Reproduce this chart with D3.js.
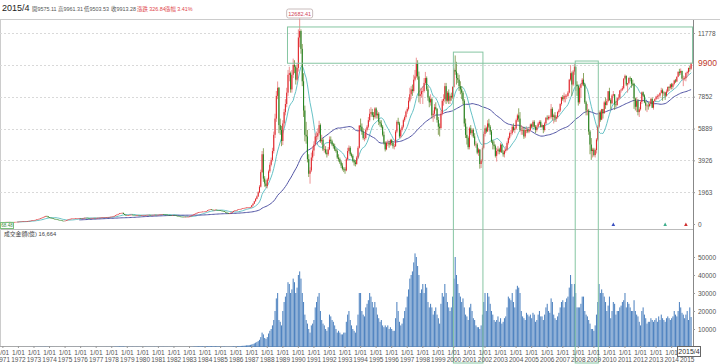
<!DOCTYPE html>
<meta charset="utf-8">
<style>
body { margin: 0; background: #fff; }
svg { display: block; font-family: "Liberation Sans", "Noto Sans CJK TC", sans-serif; }
.grid line { stroke: #d9d9d9; stroke-dasharray: 2,2; }
.axis text { fill: #555; font-size: 6.5px; }
.axis line { stroke: #999; }
</style>
<svg width="720" height="364"></svg>
<script src="https://d3js.org/d3.v7.min.js"></script>
<script>

// monthly TAIEX, 1971/01 .. 2015/04
var firstYear = 1971;

var opens = [
  118,121,124,126,129,131,130,128,127,126,127,130,
  134,140,148,155,160,168,172,178,185,190,200,215,
  227,240,255,275,300,325,350,380,420,455,490,470,
  410,390,370,340,320,300,280,265,250,230,210,195,
  190,200,230,260,290,320,330,340,340,350,355,360,
  364,360,365,370,380,385,375,370,365,370,372,375,
  372,375,380,385,395,400,405,410,415,420,430,435,
  442,450,470,500,540,580,620,650,670,688,620,560,
  525,530,540,560,570,560,550,545,550,555,545,540,
  541,545,550,555,560,565,560,555,560,565,570,565,
  568,570,580,590,600,590,580,570,560,555,550,548,
  551,540,520,500,480,460,450,440,430,445,440,442,
  443,460,500,540,580,620,660,700,720,740,750,760,
  761,780,800,850,880,900,880,860,870,880,860,850,
  839,820,800,780,750,700,680,640,660,700,750,800,
  835,850,880,900,920,940,960,980,1000,1010,1020,1030,
  1039,1150,1250,1400,1550,1700,1950,2300,3200,4300,2800,2500,
  2339,2750,3250,3650,3950,4500,5500,6500,7900,8400,6100,5800,
  5119,6200,6900,7400,8100,9200,9300,8300,9200,9800,9700,8900,
  9624,11500,11900,10800,8800,7000,5500,5400,4000,3100,3300,4100,
  4530,4900,5400,5400,5600,6100,5100,5200,4600,4600,4400,4300,
  4600,5200,5100,4900,4800,4600,4500,4100,4000,3800,3600,3400,
  3377,3300,4000,4500,4700,4300,4200,3900,3800,3700,4100,4700,
  6070,6000,5700,5300,5300,5800,6000,6400,6800,6900,6700,6600,
  7124,6700,6800,6300,6200,6000,5500,5000,4600,5000,5000,4900,
  5173,5000,4800,4800,5700,6300,6200,5400,5800,6000,6400,6600,
  6933,7100,7600,8000,8300,8200,8900,9100,9900,9100,7900,8000,
  8187,8200,8700,9000,8300,7800,7500,7700,6700,6800,7200,7100,
  6418,6000,5900,6800,7600,7700,8500,7600,8100,7600,7900,7800,
  8448,9500,9400,9000,8900,8500,8300,8100,7600,6200,5500,5300,
  4739,5900,5600,5800,5400,4900,4900,4400,4600,3700,3900,4700,
  5551,5900,5700,6200,6000,5700,5100,4900,4800,4200,4500,4600,
  4452,4900,4400,4300,4500,4600,5000,5300,5600,5600,6000,5800,
  5890,6400,6700,6500,5800,5800,5800,5400,5800,5800,5700,5800,
  6139,6000,6300,6000,5800,6000,6200,6300,6000,6100,5800,6200,
  6548,6500,6600,6600,7100,6600,6700,6500,6600,6900,7000,7400,
  7823,7700,7900,7900,7900,8100,8900,9300,8600,9400,9700,8600,
  8506,7500,8400,8600,8900,8600,7500,7000,7000,5700,4900,4500,
  4591,4250,4560,5210,6000,6890,6430,7080,6830,7500,7340,7580,
  8188,7640,7440,7920,8000,7370,7330,7760,7790,8240,8290,8370,
  8972,9140,8600,8680,9000,8990,8650,8640,7740,7230,7590,6900,
  7072,7520,8120,7930,7500,7300,7300,7270,7400,7710,7170,7580,
  7699,7850,7900,7920,8090,8250,8060,8110,7910,8170,8450,8400,
  8611,8460,8640,8850,8790,9080,9390,9320,9440,8970,8970,8990,
  9307,9360,9620,9575.11
];

var highs = [
  123,126,128,131,133,133,131,129,128,128,131,136,
  142,150,158,163,171,175,181,188,194,204,219,232,
  245,262,282,308,333,358,390,432,468,505,514,478,
  420,398,375,348,326,306,286,270,255,235,214,199,
  204,235,266,296,327,338,347,348,356,362,366,370,
  370,370,375,386,392,389,379,374,375,377,380,379,
  380,385,390,400,406,411,416,421,426,436,441,448,
  456,478,510,552,592,632,662,682,700,692,628,566,
  538,548,568,580,576,566,556,556,562,560,550,548,
  552,557,562,567,572,571,565,566,572,577,576,574,
  577,587,597,608,606,596,586,576,566,561,556,557,
  556,546,526,506,486,466,456,445,450,452,448,450,
  466,507,548,588,628,669,710,731,752,762,772,773,
  791,812,862,893,914,910,889,880,891,888,869,858,
  848,829,809,789,758,709,688,668,710,760,812,846,
  862,893,913,934,954,975,995,1016,1028,1038,1048,1058,
  1170,1280,1430,1600,1760,2020,2400,3350,4500,4673,2950,2700,
  2850,3350,3800,4100,4700,5700,6800,8200,8790,8450,6500,6050,
  6400,7100,7700,8400,9500,9700,9400,9500,10200,10100,9800,9900,
  12000,12682.41,12000,11100,9300,7300,6300,5800,4300,3500,4400,4800,
  5100,5600,5700,5900,6365,6200,5500,5300,4900,4800,4600,4750,
  5400,5400,5200,5000,4950,4700,4600,4300,4100,3900,3750,3500,
  3500,4100,4700,4850,4800,4400,4300,4000,3950,4200,4800,6100,
  6500,6200,5900,5600,5900,6100,6600,7100,7200,7100,6900,7200,
  7200,7000,6900,6400,6400,6100,5700,5100,5100,5200,5100,5250,
  5250,5100,4950,5800,6400,6550,6300,5900,6100,6500,6700,7000,
  7200,7800,8400,8500,8600,9200,9500,10256,10100,9400,8400,8400,
  8500,9000,9378,9100,8500,7900,8000,7800,7000,7400,7500,7150,
  6600,6200,7000,7700,8000,8700,8700,8200,8300,8000,8100,8500,
  9600,10393,10000,9300,9200,8800,8500,8200,7700,6500,6000,5400,
  6000,6100,5900,5900,5600,5100,5000,4700,4600,4000,4800,5700,
  6100,6000,6400,6484,6100,5800,5200,5100,4900,4700,4800,4700,
  5000,4900,4550,4600,4800,5100,5400,5700,5800,6100,6200,6000,
  6500,6800,7135,6900,6100,6000,6000,5800,6000,5900,6000,6200,
  6200,6400,6400,6100,6100,6300,6400,6400,6200,6100,6300,6600,
  6700,6700,6700,7400,7200,6800,6900,6700,6950,7100,7450,7850,
  7950,8100,8000,8000,8200,8950,9800,9400,9500,9859,9700,8800,
  8600,8500,8700,9000,9309,8700,7600,7400,7100,5800,5300,4700,
  4700,4650,5300,6100,7000,7000,7100,7100,7600,7800,7700,8200,
  8400,7750,8000,8200,8000,7600,7800,8000,8250,8350,8500,8980,
  9220,9150,8700,9050,9100,9000,8900,8700,7800,7800,7700,7200,
  7600,8170,8170,8000,7600,7400,7500,7550,7800,7800,7600,7750,
  7900,8000,8000,8100,8400,8350,8200,8150,8300,8480,8500,8650,
  8700,8700,8900,8950,9100,9400,9570,9590,9450,9150,9100,9350,
  9450,9650,9750,9961.31
];

var lows = [
  115,119,122,124,127,128,126,125,124,124,125,129,
  132,138,145,152,157,165,169,175,182,187,197,212,
  224,236,250,271,296,320,345,375,414,449,455,398,
  382,362,333,313,292,274,258,243,224,204,189,186,
  187,197,226,256,285,314,324,332,334,344,349,355,
  354,355,360,366,375,370,364,360,360,365,367,367,
  367,370,375,380,390,395,400,405,410,415,425,430,
  437,445,465,495,535,574,613,642,660,612,552,515,
  518,524,535,553,553,544,538,538,544,538,533,533,
  535,540,545,550,555,554,549,549,554,559,559,559,
  561,564,574,584,584,574,564,554,549,544,542,541,
  534,514,494,474,454,444,434,421,425,434,434,436,
  438,455,494,534,574,613,653,692,712,731,742,749,
  752,771,792,840,870,869,851,850,860,851,840,828,
  811,791,771,741,692,672,636,633,652,692,741,791,
  826,841,870,890,910,930,950,970,988,998,1008,1018,
  1020,1120,1230,1380,1520,1660,1900,2250,3150,2600,2300,2240,
  2200,2650,3150,3550,3850,4350,5300,6300,7700,5600,5500,4800,
  4873,6000,6700,7200,7900,8800,8100,8100,9000,9300,8600,8800,
  9400,10900,10500,8500,6600,5100,4950,3800,2900,2485,3200,3900,
  4200,4800,5100,5200,5500,5000,4900,4500,4400,4300,4100,4200,
  4550,4950,4800,4650,4500,4400,4000,3850,3700,3450,3300,3200,
  3098,3250,3900,4400,4200,4100,3800,3600,3550,3650,4000,4650,
  5800,5500,5200,5100,5200,5700,5900,6300,6600,6600,6400,6500,
  6500,6500,6100,6000,5900,5400,4900,4474,4550,4800,4700,4800,
  4850,4650,4600,4750,5600,6100,5300,5300,5700,5900,6300,6500,
  6800,7000,7500,7700,7900,8100,8800,9000,8900,7500,7400,7800,
  7400,8100,8600,8200,7600,7200,7300,6500,6300,6500,7000,6250,
  5500,5400,5900,6700,7300,7500,7400,7500,7400,7400,7600,7700,
  8400,9200,8600,8700,8200,8000,7700,7400,6000,5300,4900,4600,
  4600,5500,5400,5300,4800,4700,4300,4200,3411,3450,3800,4600,
  5400,5600,5700,5900,5500,5000,4600,4600,4100,3850,4300,4300,
  4400,4400,4150,4100,4400,4500,4900,5200,5400,5500,5700,5600,
  5850,6300,6300,5700,5500,5500,5250,5300,5600,5600,5600,5700,
  5900,5950,5900,5600,5700,5950,6100,5950,5900,5600,5700,6150,
  6400,6400,6450,6500,6400,6200,6300,6300,6500,6800,6900,7300,
  7600,7500,7500,7700,7850,8050,8800,7900,8500,9200,8200,7900,
  7300,7400,7800,8500,8500,7400,6700,6700,5500,4300,3955,4100,
  4160,4100,4350,5100,5900,6300,6400,6500,6800,7100,7300,7500,
  7600,7080,7400,7850,7030,7200,7300,7650,7700,8100,8200,8300,
  8900,8500,8100,8600,8800,8400,8500,7100,7000,6900,6700,6600,
  6990,7400,7850,7450,7000,6900,7050,7200,7300,7150,7050,7550,
  7650,7700,7700,7800,8050,7600,7900,7650,7850,8100,8200,8300,
  8300,8300,8550,8700,8750,9050,9150,9200,8900,8500,8850,8800,
  9050,9200,9400,9503.53
];

var closes = [
  121,124,126,129,131,130,128,127,126,127,130,134,
  140,148,155,160,168,172,178,185,190,200,215,227,
  240,255,275,300,325,350,380,420,455,490,470,410,
  390,370,340,320,300,280,265,250,230,210,195,190,
  200,230,260,290,320,330,340,340,350,355,360,364,
  360,365,370,380,385,375,370,365,370,372,375,372,
  375,380,385,395,400,405,410,415,420,430,435,442,
  450,470,500,540,580,620,650,670,688,620,560,525,
  530,540,560,570,560,550,545,550,555,545,540,541,
  545,550,555,560,565,560,555,560,565,570,565,568,
  570,580,590,600,590,580,570,560,555,550,548,551,
  540,520,500,480,460,450,440,430,445,440,442,443,
  460,500,540,580,620,660,700,720,740,750,760,761,
  780,800,850,880,900,880,860,870,880,860,850,839,
  820,800,780,750,700,680,640,660,700,750,800,835,
  850,880,900,920,940,960,980,1000,1010,1020,1030,1039,
  1150,1250,1400,1550,1700,1950,2300,3200,4300,2800,2500,2339,
  2750,3250,3650,3950,4500,5500,6500,7900,8400,6100,5800,5119,
  6200,6900,7400,8100,9200,9300,8300,9200,9800,9700,8900,9624,
  11500,11900,10800,8800,7000,5500,5400,4000,3100,3300,4100,4530,
  4900,5400,5400,5600,6100,5100,5200,4600,4600,4400,4300,4600,
  5200,5100,4900,4800,4600,4500,4100,4000,3800,3600,3400,3377,
  3300,4000,4500,4700,4300,4200,3900,3800,3700,4100,4700,6070,
  6000,5700,5300,5300,5800,6000,6400,6800,6900,6700,6600,7124,
  6700,6800,6300,6200,6000,5500,5000,4600,5000,5000,4900,5173,
  5000,4800,4800,5700,6300,6200,5400,5800,6000,6400,6600,6933,
  7100,7600,8000,8300,8200,8900,9100,9900,9100,7900,8000,8187,
  8200,8700,9000,8300,7800,7500,7700,6700,6800,7200,7100,6418,
  6000,5900,6800,7600,7700,8500,7600,8100,7600,7900,7800,8448,
  9500,9400,9000,8900,8500,8300,8100,7600,6200,5500,5300,4739,
  5900,5600,5800,5400,4900,4900,4400,4600,3700,3900,4700,5551,
  5900,5700,6200,6000,5700,5100,4900,4800,4200,4500,4600,4452,
  4900,4400,4300,4500,4600,5000,5300,5600,5600,6000,5800,5890,
  6400,6700,6500,5800,5800,5800,5400,5800,5800,5700,5800,6139,
  6000,6300,6000,5800,6000,6200,6300,6000,6100,5800,6200,6548,
  6500,6600,6600,7100,6600,6700,6500,6600,6900,7000,7400,7823,
  7700,7900,7900,7900,8100,8900,9300,8600,9400,9700,8600,8506,
  7500,8400,8600,8900,8600,7500,7000,7000,5700,4900,4500,4591,
  4250,4560,5210,6000,6890,6430,7080,6830,7500,7340,7580,8188,
  7640,7440,7920,8000,7370,7330,7760,7790,8240,8290,8370,8972,
  9140,8600,8680,9000,8990,8650,8640,7740,7230,7590,6900,7072,
  7520,8120,7930,7500,7300,7300,7270,7400,7710,7170,7580,7699,
  7850,7900,7920,8090,8250,8060,8110,7910,8170,8450,8400,8611,
  8460,8640,8850,8790,9080,9390,9320,9440,8970,8970,8990,9307,
  9360,9620,9586.44,9913.28
];

// 成交金額 (億)
var volumes = [
  10,10,12,10,10,9,9,8,8,9,10,12,
  15,18,20,22,25,24,25,28,30,35,40,45,
  50,60,70,80,90,100,110,120,130,140,110,90,
  70,60,50,45,40,35,30,28,25,22,20,20,
  25,35,45,55,60,55,50,50,52,55,58,60,
  60,65,70,75,70,60,55,52,55,58,60,60,
  60,65,70,75,80,80,82,85,88,90,95,100,
  120,140,160,200,250,280,300,320,330,280,200,150,
  150,140,150,160,150,140,130,135,140,130,120,120,
  120,125,130,135,140,130,125,130,135,140,130,130,
  140,150,160,170,160,150,140,130,125,120,120,120,
  110,100,90,80,75,70,65,60,70,70,70,70,
  90,120,160,200,250,300,350,380,400,380,360,350,
  380,400,450,480,500,450,400,420,430,400,380,360,
  330,300,280,250,220,200,180,200,250,300,350,380,
  400,450,500,550,600,650,700,800,900,1000,1100,1200,
  1400,1700,2000,2400,2800,3300,4000,5500,8000,7000,5000,4500,
  5500,7500,9000,10000,12000,15000,20000,27000,30000,15000,14000,12000,
  20000,25000,28000,30000,36000,35000,30000,32000,38000,36000,30000,33000,
  40000,42000,38000,30000,25000,18000,15000,13000,10000,8000,12000,13000,
  15000,22000,25000,28000,30000,20000,15000,13000,12000,10000,9000,11000,
  18000,17000,15000,14000,12000,10000,8000,9000,8000,7000,7000,8000,
  8000,14000,18000,20000,15000,12000,10000,9000,8000,12000,18000,30000,
  30000,20000,18000,17000,22000,24000,26000,30000,28000,25000,22000,25000,
  22000,18000,16000,14000,15000,12000,11000,12000,11000,12000,10000,11000,
  10000,9000,9000,16000,25000,20000,14000,12000,13000,16000,20000,22000,
  28000,32000,38000,40000,42000,47000,52000,50000,45000,40000,30000,32000,
  35000,30000,35000,33000,25000,22000,24000,22000,18000,20000,22000,18000,
  16000,13000,24000,30000,28000,35000,30000,25000,22000,20000,22000,28000,
  38000,50000,40000,35000,30000,28000,25000,27000,22000,18000,17000,15000,
  22000,24000,20000,16000,15000,12000,11000,11000,10000,12000,18000,25000,
  30000,20000,30000,28000,24000,20000,18000,15000,14000,15000,17000,14000,
  16000,13000,14000,16000,17000,22000,28000,27000,26000,30000,25000,22000,
  32000,34000,33000,30000,20000,17000,16000,15000,19000,18000,17000,18000,
  16000,19000,18000,14000,15000,18000,20000,17000,17000,15000,18000,22000,
  24000,20000,19000,27000,25000,18000,16000,15000,17000,19000,22000,25000,
  26000,22000,25000,27000,28000,33000,40000,35000,28000,35000,30000,22000,
  22000,22000,24000,28000,28000,20000,18000,17000,15000,13000,10000,10000,
  9000,12000,18000,25000,35000,30000,32000,30000,28000,25000,20000,23000,
  28000,16000,20000,25000,24000,18000,20000,20000,22000,23000,25000,26000,
  30000,22000,25000,24000,22000,20000,20000,26000,20000,18000,17000,14000,
  12000,20000,22000,18000,16000,13000,14000,14000,16000,15000,14000,15000,
  16000,14000,17000,15000,18000,16000,15000,14000,16000,17000,16000,15000,
  16000,17000,20000,18000,17000,20000,25000,22000,19000,18000,16000,18000,
  20000,15000,22000,16664
];

var years = [1971,1972,1973,1974,1975,1976,1977,1978,1979,1980,1981,1982,1983,1984,1985,
             1986,1987,1988,1989,1990,1991,1992,1993,1994,1995,1996,1997,1998,1999,2000,
             2001,2002,2003,2004,2005,2006,2007,2008,2009,2010,2011,2012,2013,2014,2015];
var priceTicks = [0,1963,3926,5889,7852,9815,11778];
var volumeTicks = [10000,20000,30000,40000,50000];
var maPeriods = [12, 60];
var maColors = ["#66c2c6", "#5255a5"];

// highlighted ranges: [first month index, last month index, top value, bottom value]
var boxes = [[220, 532, 12150, 9913.28], [348, 370, 10600, null], [442, 459, 10050, null]];
var markers = [[471, "#3a4fc0"], [511, "#3fae8c"], [527, "#d03030"]];
var firstTag = "68.48", lastPriceTag = 9900;

var svg = d3.select("svg");
var upColor = "#e0242a", downColor = "#238423";

var x = d3.scaleBand().domain(d3.range(closes.length)).range([2.35, 691.6]).paddingInner(0.2);
function xc(i) { return x(i) + x.bandwidth() / 2; }
var y = d3.scaleLinear().domain([0, 11778]).range([224, 33]);
var yv = d3.scaleLinear().domain([0, 50000]).range([347, 257]);

// frame
svg.append("line").attr("x1", 0).attr("x2", 720).attr("y1", 19.5).attr("y2", 19.5).attr("stroke", "#ccc");
svg.append("line").attr("x1", 0).attr("x2", 693).attr("y1", 229.5).attr("y2", 229.5).attr("stroke", "#bbb");
svg.append("line").attr("x1", 0).attr("x2", 693).attr("y1", 346.5).attr("y2", 346.5).attr("stroke", "#aaa");
svg.append("line").attr("x1", 0.5).attr("x2", 0.5).attr("y1", 20).attr("y2", 346).attr("stroke", "#ccc");

// grids
svg.append("g").attr("class", "grid").selectAll("line").data(priceTicks.slice(1)).enter().append("line")
    .attr("x1", 0).attr("x2", 693).attr("y1", function(d) { return Math.round(y(d)) + 0.5; })
    .attr("y2", function(d) { return Math.round(y(d)) + 0.5; });

// volume bars
svg.append("g").selectAll("rect").data(volumes).enter().append("rect")
    .attr("x", function(d, i) { return x(i); })
    .attr("width", x.bandwidth())
    .attr("y", function(d) { return yv(d); })
    .attr("height", function(d) { return yv(0) - yv(d); })
    .attr("fill", "#4f83c0");

// moving averages
maPeriods.forEach(function(n, k) {
  var ma = closes.map(function(c, i) { return i < n - 1 ? null : d3.mean(closes.slice(i - n + 1, i + 1)); });
  svg.append("path").datum(ma)
      .attr("fill", "none").attr("stroke", maColors[k]).attr("stroke-width", 1)
      .attr("d", d3.line().defined(function(d) { return d != null; })
          .x(function(d, i) { return xc(i); }).y(function(d) { return y(d); }));
});

// candles
var candle = svg.append("g").selectAll("g").data(closes).enter().append("g");
candle.append("line")
    .attr("x1", function(d, i) { return xc(i); }).attr("x2", function(d, i) { return xc(i); })
    .attr("y1", function(d, i) { return y(highs[i]); }).attr("y2", function(d, i) { return y(lows[i]); })
    .attr("stroke", function(d, i) { return d >= opens[i] ? "#e8787a" : "#6f8f3a"; })
    .attr("stroke-width", 0.8);
candle.append("rect")
    .attr("x", function(d, i) { return x(i); })
    .attr("width", x.bandwidth())
    .attr("y", function(d, i) { return y(Math.max(d, opens[i])); })
    .attr("height", function(d, i) { return Math.max(0.6, Math.abs(y(d) - y(opens[i]))); })
    .attr("fill", function(d, i) { return d >= opens[i] ? upColor : downColor; });

// highlight boxes
boxes.forEach(function(b) {
  var x0 = x(b[0]), x1 = b[1] >= closes.length ? 692.5 : x(b[1]) + x.bandwidth();
  var top = y(b[2]);
  var bottom = b[3] == null ? 363 : y(b[3]);
  svg.append("rect").attr("x", x0).attr("y", top).attr("width", x1 - x0).attr("height", bottom - top)
      .attr("fill", "none").attr("stroke", "#86c6a2").attr("stroke-width", 1);
});

// event markers
markers.forEach(function(m) {
  var cx = xc(m[0]);
  svg.append("path").attr("d", "M" + (cx - 1.8) + ",226 L" + cx + ",222.5 L" + (cx + 1.8) + ",226Z").attr("fill", m[1]);
});

// right axes
svg.append("line").attr("x1", 693.5).attr("x2", 693.5).attr("y1", 20).attr("y2", 347).attr("stroke", "#888");
var py = svg.append("g").attr("class", "axis").attr("transform", "translate(693,0)")
    .call(d3.axisRight(y).tickValues(priceTicks).tickSize(2).tickPadding(3).tickFormat(d3.format("d")));
py.select(".domain").remove();
py.selectAll(".tick").filter(function(d) { return d === 9815; }).remove();
svg.append("text").attr("x", 698).attr("y", y(lastPriceTag)).attr("dy", "0.35em")
    .attr("fill", "#c0392b").attr("font-size", "8.5px").text(lastPriceTag);

var vy = svg.append("g").attr("class", "axis").attr("transform", "translate(693,0)")
    .call(d3.axisRight(yv).tickValues(volumeTicks).tickSize(2).tickPadding(3).tickFormat(d3.format("d")));
vy.select(".domain").remove();

// bottom axis
var xa = svg.append("g").attr("class", "axis").attr("transform", "translate(0,346)")
    .call(d3.axisBottom(x).tickValues(years.map(function(yr) { return (yr - firstYear) * 12; })).tickSize(2));
xa.select(".domain").remove();
xa.selectAll(".tick text").each(function(i) {
  var t = d3.select(this).text(null).attr("y", 0).attr("dy", null);
  t.append("tspan").attr("x", 0).attr("y", 8.5).text("1/01");
  t.append("tspan").attr("x", 0).attr("y", 16).text(firstYear + i / 12);
});

// header
var last = closes.length - 1, chg = closes[last] - closes[last - 1];
svg.append("text").attr("x", 2).attr("y", 11).attr("font-size", "9px").attr("fill", "#222").text("2015/4");
var head = [["開", opens[last], 32], ["高", highs[last], 58], ["低", lows[last], 84], ["收", closes[last], 111]];
head.forEach(function(h) {
  svg.append("text").attr("x", h[2]).attr("y", 10.5).attr("font-size", "5.4px").attr("fill", "#555")
      .text(h[0] + h[1].toFixed(2));
});
svg.append("text").attr("x", 137).attr("y", 10.5).attr("font-size", "5.4px").attr("fill", "#e0454a")
    .text("漲跌 " + chg.toFixed(2));
svg.append("text").attr("x", 165).attr("y", 10.5).attr("font-size", "5.4px").attr("fill", "#e0454a")
    .text("漲幅 " + (chg / closes[last - 1] * 100).toFixed(2) + "%");

// peak tag
var peakI = d3.maxIndex(highs);
var pt = svg.append("g").attr("transform", "translate(" + xc(peakI) + ",0)");
pt.append("rect").attr("x", -13).attr("y", 9).attr("width", 26).attr("height", 9).attr("rx", 2)
    .attr("fill", "#fff").attr("stroke", "#c9bcbc");
pt.append("text").attr("y", 15.8).attr("text-anchor", "middle").attr("font-size", "5.5px").attr("fill", "#d0455a")
    .text(highs[peakI].toFixed(2));

// first value tag
svg.append("rect").attr("x", 0.5).attr("y", 222.5).attr("width", 13).attr("height", 6).attr("fill", "#fff").attr("stroke", "#7cbf7c");
svg.append("text").attr("x", 7).attr("y", 227.3).attr("text-anchor", "middle").attr("font-size", "4.6px").attr("fill", "#3a8a3a").text(firstTag);

// volume title
svg.append("text").attr("x", 4).attr("y", 236).attr("font-size", "5.8px").attr("fill", "#444")
    .text("成交金額(億) " + d3.format(",")(volumes[last]));

// current month tag
svg.append("rect").attr("x", 677.5).attr("y", 346.5).attr("width", 23).attr("height", 10).attr("fill", "#fff").attr("stroke", "#666");
svg.append("text").attr("x", 689).attr("y", 354).attr("text-anchor", "middle").attr("font-size", "7px").attr("fill", "#333").text("2015/4");

</script>
